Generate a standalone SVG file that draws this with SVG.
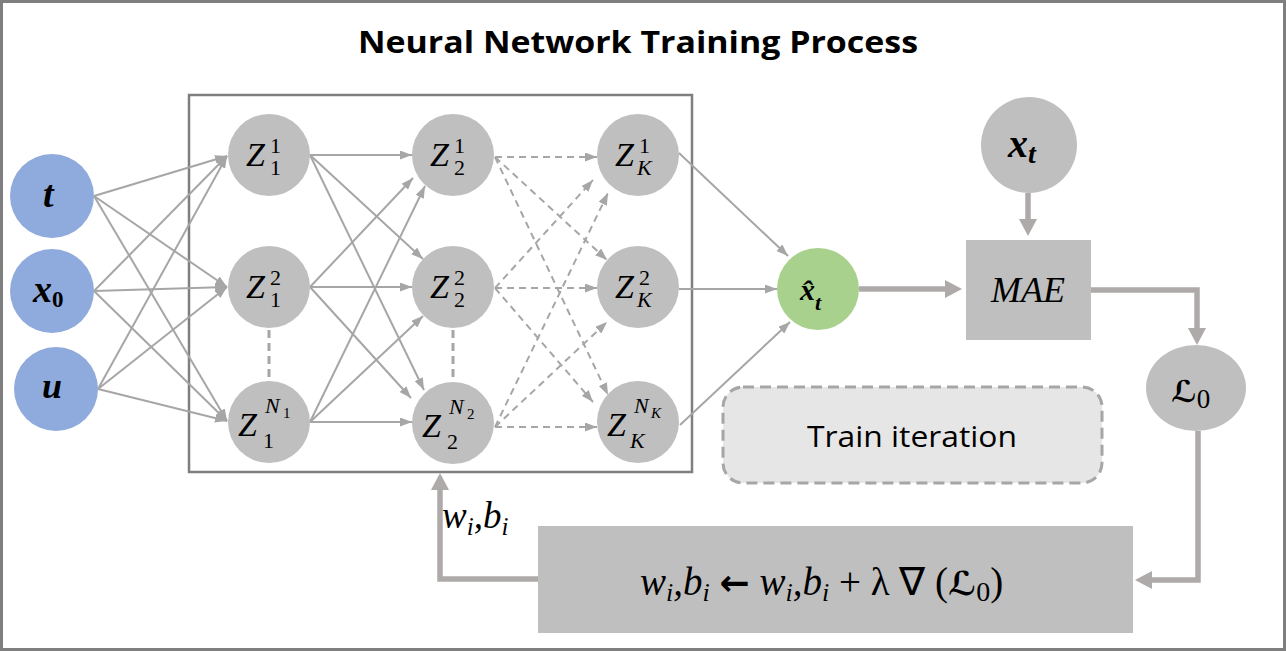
<svg xmlns="http://www.w3.org/2000/svg" width="1286" height="651" viewBox="0 0 1286 651">
<style>
.thin{stroke:#A6A6A6;stroke-width:2;fill:none}
.dash{stroke:#A6A6A6;stroke-width:2;fill:none;stroke-dasharray:7,5}
.vdash{stroke:#A6A6A6;stroke-width:3;fill:none;stroke-dasharray:8,5}
.thick{stroke:#AEAAAA;stroke-width:5.5;fill:none}
.hid{fill:#BFBFBF}
.inp{fill:#8FAADC}
.z{font-family:"Liberation Serif",serif;font-style:italic;font-size:34px;fill:#000}
.sc{font-style:normal;font-size:22px}
.sci{font-style:italic;font-size:22px}
.ssc{font-style:normal;font-size:15px}
.ssci{font-style:italic;font-size:15px}
.bi{font-family:"Liberation Serif",serif;font-style:italic;font-weight:bold;fill:#000}
.it{font-family:"Liberation Serif",serif;font-style:italic;fill:#000}
.rm{font-family:"Liberation Serif",serif;fill:#000}
</style>
<defs>
<marker id="ah" markerUnits="userSpaceOnUse" markerWidth="12" markerHeight="9" refX="12" refY="4.5" orient="auto"><path d="M0,0 L12,4.5 L0,9 z" fill="#A6A6A6"/></marker>
<marker id="ahk" markerUnits="userSpaceOnUse" markerWidth="17" markerHeight="18" refX="1" refY="9" orient="auto"><path d="M0,0 L17,9 L0,18 z" fill="#AEAAAA"/></marker>
</defs>
<rect x="1.5" y="1.5" width="1283" height="648" fill="#FFFFFF" stroke="#7F7F7F" stroke-width="3"/>
<text x="358" y="53" font-family="Open Sans, Liberation Sans, sans-serif" font-weight="bold" font-size="31" textLength="560" lengthAdjust="spacingAndGlyphs">Neural Network Training Process</text>

<g id="network-box"><rect x="189" y="95" width="503" height="377" fill="none" stroke="#7F7F7F" stroke-width="2.5"/></g>

<g id="connectors">
<path class="thin" marker-end="url(#ah)" d="M94,196 L227,156"/>
<path class="thin" marker-end="url(#ah)" d="M94,196 L227,287"/>
<path class="thin" marker-end="url(#ah)" d="M94,196 L227,421"/>
<path class="thin" marker-end="url(#ah)" d="M94,291 L227,156"/>
<path class="thin" marker-end="url(#ah)" d="M94,291 L227,287"/>
<path class="thin" marker-end="url(#ah)" d="M94,291 L227,421"/>
<path class="thin" marker-end="url(#ah)" d="M98,389 L227,156"/>
<path class="thin" marker-end="url(#ah)" d="M98,389 L227,287"/>
<path class="thin" marker-end="url(#ah)" d="M98,389 L227,421"/>

<path class="thin" marker-end="url(#ah)" d="M310,155 L412,155"/>
<path class="thin" marker-end="url(#ah)" d="M310,155 L423,259"/>
<path class="thin" marker-end="url(#ah)" d="M310,155 L424,390"/>
<path class="thin" marker-end="url(#ah)" d="M310,287 L413,178"/>
<path class="thin" marker-end="url(#ah)" d="M310,287 L412,287"/>
<path class="thin" marker-end="url(#ah)" d="M310,287 L411,398"/>
<path class="thin" marker-end="url(#ah)" d="M310,422 L425,186"/>
<path class="thin" marker-end="url(#ah)" d="M310,422 L423,316"/>
<path class="thin" marker-end="url(#ah)" d="M310,422 L412,422"/>

<path class="dash" marker-end="url(#ah)" d="M495,157 L597,157"/>
<path class="dash" marker-end="url(#ah)" d="M495,157 L607,260"/>
<path class="dash" marker-end="url(#ah)" d="M495,157 L608,395"/>
<path class="dash" marker-end="url(#ah)" d="M495,288 L593,180"/>
<path class="dash" marker-end="url(#ah)" d="M495,288 L597,288"/>
<path class="dash" marker-end="url(#ah)" d="M495,288 L593,402"/>
<path class="dash" marker-end="url(#ah)" d="M495,427 L608,193"/>
<path class="dash" marker-end="url(#ah)" d="M495,427 L607,322"/>
<path class="dash" marker-end="url(#ah)" d="M495,427 L597,427"/>

<path class="vdash" d="M269,330 L269,380"/>
<path class="vdash" d="M453,330 L453,382"/>

<path class="thin" marker-end="url(#ah)" d="M679,153 L788,256"/>
<path class="thin" marker-end="url(#ah)" d="M679,289 L777,289"/>
<path class="thin" marker-end="url(#ah)" d="M680,425 L790,322"/>

<path class="thick" marker-end="url(#ahk)" d="M859,289 L946,289"/>
<path class="thick" marker-end="url(#ahk)" d="M1028,193 L1028,220"/>
<path class="thick" marker-end="url(#ahk)" d="M1091,290 H1197 V329"/>
<path class="thick" marker-end="url(#ahk)" d="M1198,431 V580 H1151"/>
<path class="thick" marker-end="url(#ahk)" d="M538,579 H440 V489"/>
</g>

<g id="in-t"><circle class="inp" cx="52" cy="196" r="42"/><text class="bi" x="43" y="207" font-size="38">t</text></g>
<g id="in-x0"><circle class="inp" cx="52" cy="291" r="42"/><text class="bi" x="33" y="302" font-size="38">x<tspan font-style="normal" font-size="23" dy="5">0</tspan></text></g>
<g id="in-u"><circle class="inp" cx="56" cy="389" r="42"/><text class="bi" x="42" y="398" font-size="36">u</text></g>

<g id="z1-1"><circle class="hid" cx="269" cy="155" r="41"/><text class="z" x="246" y="166">Z<tspan class="sc" x="270" y="153">1</tspan><tspan class="sc" x="270" y="175">1</tspan></text></g>
<g id="z1-2"><circle class="hid" cx="269" cy="287" r="41"/><text class="z" x="246" y="298">Z<tspan class="sc" x="270" y="285">2</tspan><tspan class="sc" x="270" y="307">1</tspan></text></g>
<g id="z1-n"><circle class="hid" cx="269" cy="422" r="41"/><text class="z" x="238" y="436">Z<tspan class="sci" x="265" y="413">N</tspan><tspan class="ssc" x="283" y="418">1</tspan><tspan class="sc" x="263" y="448">1</tspan></text></g>

<g id="z2-1"><circle class="hid" cx="453" cy="155" r="41"/><text class="z" x="430" y="166">Z<tspan class="sc" x="454" y="153">1</tspan><tspan class="sc" x="454" y="175">2</tspan></text></g>
<g id="z2-2"><circle class="hid" cx="453" cy="287" r="41"/><text class="z" x="430" y="298">Z<tspan class="sc" x="454" y="285">2</tspan><tspan class="sc" x="454" y="307">2</tspan></text></g>
<g id="z2-n"><circle class="hid" cx="453" cy="423" r="41"/><text class="z" x="422" y="437">Z<tspan class="sci" x="449" y="414">N</tspan><tspan class="ssc" x="467" y="419">2</tspan><tspan class="sc" x="447" y="449">2</tspan></text></g>

<g id="zk-1"><circle class="hid" cx="638" cy="155" r="41"/><text class="z" x="615" y="166">Z<tspan class="sc" x="639" y="153">1</tspan><tspan class="sci" x="637" y="175">K</tspan></text></g>
<g id="zk-2"><circle class="hid" cx="638" cy="287" r="41"/><text class="z" x="615" y="298">Z<tspan class="sc" x="639" y="285">2</tspan><tspan class="sci" x="637" y="307">K</tspan></text></g>
<g id="zk-n"><circle class="hid" cx="638" cy="422" r="41"/><text class="z" x="607" y="436">Z<tspan class="sci" x="634" y="413">N</tspan><tspan class="ssci" x="651" y="418">K</tspan><tspan class="sci" x="630" y="448">K</tspan></text></g>

<g id="xhat"><circle cx="818" cy="289" r="41" fill="#A9D18E"/><text class="bi" x="800" y="300" font-size="30">x̂<tspan font-size="22" dy="10">t</tspan></text></g>

<g id="xt"><circle class="hid" cx="1029" cy="145" r="48"/><text class="bi" x="1008" y="157" font-size="40">x<tspan font-size="28" dy="6">t</tspan></text></g>

<g id="mae"><rect x="966" y="240" width="125" height="100" fill="#BFBFBF"/><text class="it" x="1028" y="302" font-size="36" text-anchor="middle">MAE</text></g>

<g id="loss"><ellipse cx="1196" cy="388" rx="50" ry="43" fill="#BFBFBF"/><text x="1171" y="402" font-family="DejaVu Serif, DejaVu Sans, serif" font-weight="bold" font-style="italic" font-size="30" fill="#000">ℒ<tspan font-family="Liberation Serif, serif" font-weight="normal" font-style="normal" font-size="27" dy="6">0</tspan></text></g>

<g id="train-iter"><rect x="723" y="387" width="379" height="96" rx="20" fill="#E7E6E6" stroke="#A6A6A6" stroke-width="3" stroke-dasharray="11,6"/><text x="912" y="447" font-family="Open Sans, Liberation Sans, sans-serif" font-size="29" text-anchor="middle" textLength="210" lengthAdjust="spacingAndGlyphs">Train iteration</text></g>

<g id="update"><rect x="538" y="526" width="595" height="107" fill="#BFBFBF"/>
<text class="it" x="640" y="595" font-size="39">w<tspan font-size="26" dy="6">i</tspan><tspan dy="-6">,b</tspan><tspan font-size="26" dy="6">i</tspan><tspan dy="-6"> </tspan><tspan font-family="DejaVu Sans, sans-serif" font-weight="bold" font-style="normal" font-size="36">←</tspan><tspan>  w</tspan><tspan font-size="26" dy="6">i</tspan><tspan dy="-6">,b</tspan><tspan font-size="26" dy="6">i</tspan><tspan font-style="normal" dy="-6"> + λ ∇ (</tspan><tspan font-family="DejaVu Serif, DejaVu Sans, serif" font-weight="bold" font-size="33">ℒ</tspan><tspan font-style="normal" font-size="28" dy="6">0</tspan><tspan font-style="normal" dy="-6">)</tspan></text>
</g>

<g id="label-wb"><text class="it" x="442" y="528" font-size="37">w<tspan font-size="25" dy="7">i</tspan><tspan dy="-7">,b</tspan><tspan font-size="25" dy="7">i</tspan></text></g>
</svg>
